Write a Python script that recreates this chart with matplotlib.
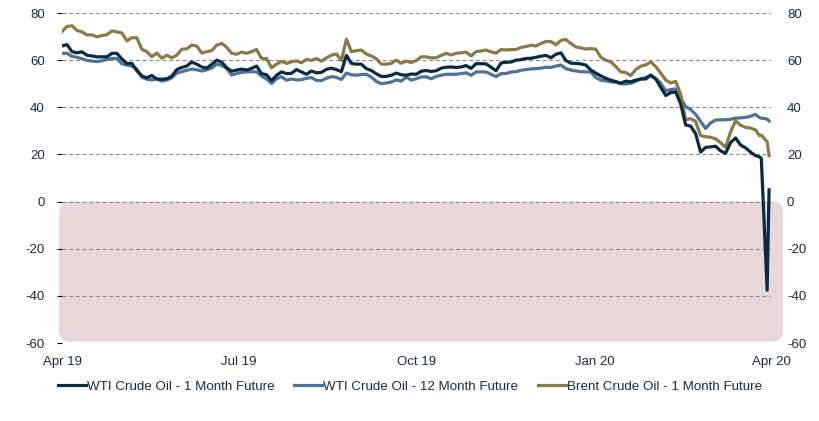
import matplotlib
matplotlib.use('Agg')
import matplotlib.pyplot as plt
import matplotlib.dates as mdates
from matplotlib.patches import FancyBboxPatch
import pandas as pd

plt.rcParams['font.family'] = ['Liberation Sans', 'DejaVu Sans']
plt.rcParams['axes.unicode_minus'] = False

# sampling grid (about every 2.6 days) plus the last few trading days
grid_dates = pd.date_range('2019-04-22', '2020-04-14', periods=140)
tail_dates = pd.to_datetime(['2020-04-16', '2020-04-17', '2020-04-20', '2020-04-21'])

wti_1m = [
    66.0, 66.6, 63.6, 63.1, 63.5, 62.1, 61.8, 61.4, 61.4, 61.4, 62.9, 62.9, 60.5, 58.6, 58.6,
    55.5, 53.3, 52.5, 53.5, 52.0, 51.9, 52.1, 53.2, 56.0, 56.9, 57.5, 59.2, 58.3, 57.1,
    56.6, 58.2, 60.0, 59.2, 56.8, 55.3, 55.8, 56.2, 55.8, 56.5, 57.5, 54.3, 53.8, 51.3, 53.6,
    55.0, 54.3, 54.4, 56.0, 55.0, 54.0, 55.4, 54.6, 54.8, 56.1, 56.6, 56.0, 55.1, 62.0,
    58.6, 58.3, 58.3, 56.4, 55.6, 54.2, 53.1, 53.1, 53.6, 54.5, 53.8, 53.6, 54.1, 54.0, 55.3,
    55.6, 55.2, 55.5, 56.6, 57.0, 57.1, 56.9, 57.1, 57.7, 56.5, 58.5, 58.5, 58.4, 57.0,
    55.5, 58.8, 59.1, 59.2, 60.0, 60.2, 60.7, 60.8, 61.2, 61.7, 62.0, 61.0, 62.5, 63.1, 59.8,
    58.7, 58.6, 58.4, 57.9, 55.8, 54.5, 53.3, 52.3, 51.5, 50.9, 50.2, 51.1, 50.8, 51.5,
    52.0, 52.0, 53.7, 52.0, 48.5, 45.0, 46.2, 46.5, 41.5, 32.5, 32.0, 28.8, 21.0, 23.0, 23.2,
    23.5, 21.5, 20.5, 25.0, 27.0, 24.0, 22.8, 21.0, 19.5,
    19.0, 18.3, -37.6, 5.0,
]

wti_12m = [
    62.9, 62.9, 61.6, 61.2, 60.6, 59.9, 59.6, 59.4, 59.7, 60.3, 60.7, 60.7, 58.5, 57.9, 57.5,
    56.2, 52.8, 51.9, 51.6, 52.0, 51.1, 51.6, 52.5, 54.5, 55.1, 55.7, 56.2, 55.9, 55.4,
    55.9, 56.6, 58.3, 57.8, 56.5, 53.7, 54.3, 54.8, 55.0, 55.1, 55.0, 53.2, 52.0, 50.1, 52.1,
    53.0, 51.5, 52.0, 51.6, 51.7, 52.3, 52.6, 51.4, 51.3, 52.3, 53.0, 52.7, 51.8, 54.5,
    53.8, 53.6, 53.9, 54.0, 52.8, 51.0, 50.0, 50.3, 50.7, 51.6, 51.1, 52.8, 51.5, 52.1, 52.9,
    52.9, 52.1, 53.1, 53.6, 54.0, 54.0, 54.0, 54.3, 54.6, 53.6, 55.0, 55.0, 55.0, 54.0,
    53.0, 54.3, 54.3, 55.0, 55.1, 55.7, 56.0, 56.3, 56.4, 56.6, 57.0, 56.9, 57.5, 57.9, 56.4,
    55.8, 55.4, 55.1, 55.0, 55.0, 52.6, 51.5, 51.2, 50.8, 50.7, 50.0, 49.9, 50.2, 51.0,
    52.0, 52.7, 53.4, 52.2, 50.2, 47.0, 47.5, 47.8, 44.0, 40.3, 39.0, 37.0, 34.0, 31.0, 33.4,
    34.6, 34.7, 34.7, 34.9, 35.4, 35.5, 35.7, 36.2, 37.0,
    35.6, 35.4, 35.0, 34.2,
]

brent_1m = [
    72.1, 74.3, 74.6, 72.6, 72.0, 70.7, 70.7, 69.9, 70.4, 70.8, 72.4, 72.0, 71.5, 68.2, 69.5,
    69.5, 64.6, 63.6, 61.5, 63.0, 60.8, 62.1, 61.0, 62.1, 64.6, 64.8, 66.4, 66.0, 63.0,
    63.6, 64.0, 66.4, 67.1, 65.5, 62.9, 62.5, 63.4, 62.9, 63.6, 64.5, 60.7, 60.7, 56.8, 58.3,
    59.5, 58.6, 59.3, 59.7, 58.9, 60.3, 59.9, 60.7, 59.5, 61.0, 62.1, 62.6, 59.8, 68.9,
    63.6, 64.0, 64.3, 62.6, 61.8, 60.6, 58.3, 58.3, 58.6, 60.0, 58.7, 59.6, 59.0, 59.8, 61.4,
    61.4, 61.0, 61.0, 62.0, 62.9, 62.2, 62.9, 63.1, 63.4, 61.8, 63.6, 63.9, 64.3, 63.5,
    63.0, 64.5, 64.3, 64.5, 64.5, 65.4, 65.8, 66.3, 66.0, 67.1, 67.9, 67.9, 66.5, 68.4, 68.8,
    67.0, 65.6, 65.2, 64.7, 64.9, 64.6, 61.2, 60.0, 59.3, 57.3, 55.0, 54.8, 53.5, 56.0,
    57.4, 58.0, 59.2, 57.3, 54.5, 51.6, 50.3, 51.0, 45.5, 34.7, 35.2, 34.0, 28.0, 27.5, 27.3,
    26.6, 25.0, 23.0, 29.5, 34.3, 32.4, 31.5, 31.2, 30.4,
    28.0, 28.2, 25.4, 19.5,
]

dates = grid_dates.append(tail_dates)

tick_dates = pd.to_datetime(['2019-04-22', '2019-07-22', '2019-10-22', '2020-01-22', '2020-04-22'])
tick_labels = ['Apr 19', 'Jul 19', 'Oct 19', 'Jan 20', 'Apr 20']
y_ticks = list(range(-60, 81, 20))

text_color = '#1c2a48'

fig = plt.figure(figsize=(8.2, 4.21), dpi=100)
ax = fig.add_axes([62 / 820, 1 - 343 / 421, (771 - 62) / 820, (343 - 13) / 421])

ax.plot(dates, wti_1m, color='#0b2a45', lw=2.3, label='WTI Crude Oil - 1 Month Future', zorder=5)
ax.plot(dates, wti_12m, color='#4e7397', lw=2.3, label='WTI Crude Oil - 12 Month Future', zorder=3)
ax.plot(dates, brent_1m, color='#8b7a48', lw=2.3, label='Brent Crude Oil - 1 Month Future', zorder=4)

x0 = mdates.date2num(tick_dates[0])
x1 = mdates.date2num(tick_dates[-1])
ax.set_xlim(x0, x1)
ax.set_ylim(-60, 80)

# negative-price zone, rounded box a little wider than the plot
px_per_day = (771 - 62) / (x1 - x0)
px_per_unit = (343 - 13) / 140
r_px = 10
box = FancyBboxPatch((x0 - 1.5, -59.4), (x1 - x0) + 7.7, 59.4,
                     boxstyle=f'round,pad=0,rounding_size={r_px / px_per_day}',
                     mutation_aspect=px_per_day / px_per_unit,
                     facecolor='#e9d8d9', edgecolor='none', zorder=0.2, clip_on=False)
ax.add_patch(box)

ax.set_yticks(y_ticks)
ax.set_xticks(tick_dates)
ax.set_xticklabels(tick_labels)
ax.grid(axis='y', color='#8a8a8a', lw=0.8, linestyle=(0, (3.5, 2.5)))
ax.set_axisbelow(True)
for s in ax.spines.values():
    s.set_visible(False)
ax.tick_params(axis='y', left=False, pad=9, labelsize=9.5, labelcolor=text_color)
ax.tick_params(axis='x', bottom=False, pad=6, labelsize=9.5, labelcolor=text_color)

# right-hand copy of the value axis
ax2 = ax.twinx()
ax2.set_ylim(ax.get_ylim())
ax2.set_yticks(y_ticks)
for s in ax2.spines.values():
    s.set_visible(False)
ax2.tick_params(axis='y', right=False, pad=8, labelsize=9.5, labelcolor=text_color)

leg = fig.legend(handles=ax.get_lines(), loc='center', bbox_to_anchor=(0.5, 1 - 387 / 421),
                 ncol=3, frameon=False, handlelength=2.1, handletextpad=0.08,
                 columnspacing=1.5, fontsize=9.6)
for t in leg.get_texts():
    t.set_color(text_color)

fig.savefig('out.png', dpi=100)
